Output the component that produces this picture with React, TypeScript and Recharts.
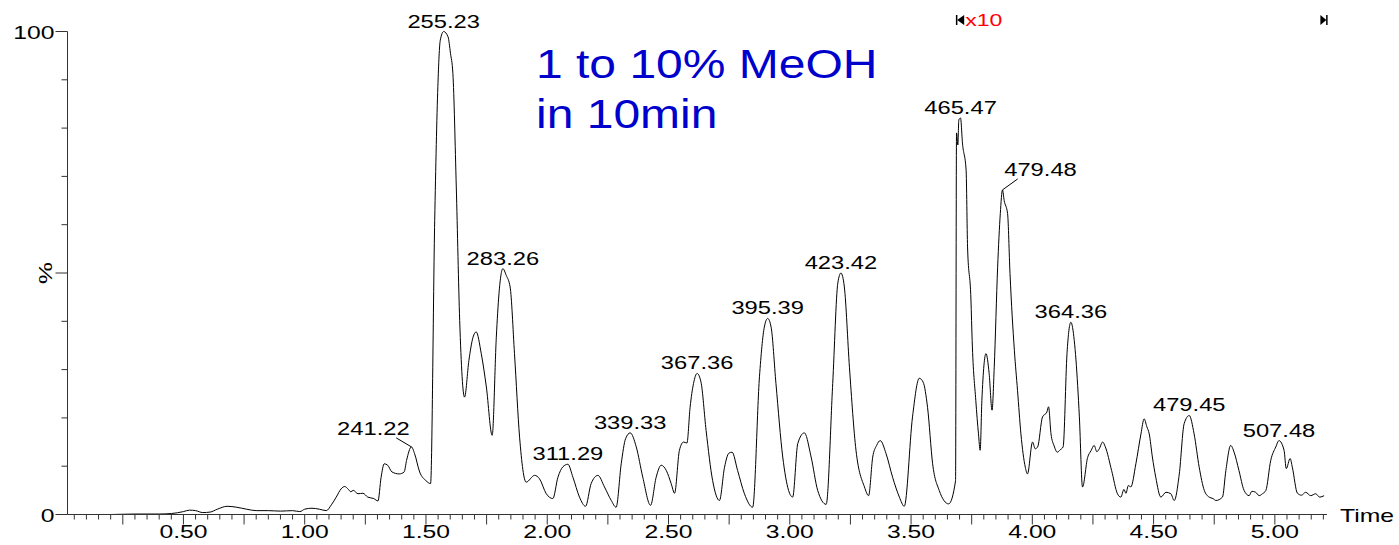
import React from 'react';
import { LineChart, Line, XAxis, YAxis, ReferenceDot } from 'recharts';

// retention time (min) and relative intensity (%)
const times = [
  0.022, 0.1, 0.2, 0.3, 0.4, 0.45, 0.5, 0.525, 0.55, 0.58, 0.61, 0.64, 0.68, 0.72, 0.76, 0.8,
  0.85, 0.9, 0.95, 0.98, 1.0, 1.03, 1.06, 1.089, 1.11, 1.13, 1.15, 1.165, 1.18, 1.19, 1.2,
  1.22, 1.24, 1.26, 1.285, 1.302, 1.315, 1.328, 1.342, 1.36, 1.39, 1.41, 1.42, 1.44, 1.453,
  1.474, 1.5, 1.519, 1.536, 1.549, 1.559, 1.573, 1.591, 1.601, 1.611, 1.625, 1.639, 1.659,
  1.677, 1.694, 1.707, 1.728, 1.749, 1.773, 1.79, 1.801, 1.817, 1.831, 1.847, 1.865, 1.886,
  1.913, 1.948, 1.968, 1.996, 2.023, 2.044, 2.065, 2.085, 2.106, 2.133, 2.158, 2.181, 2.209,
  2.236, 2.264, 2.284, 2.305, 2.323, 2.342, 2.367, 2.394, 2.426, 2.449, 2.47, 2.491, 2.511,
  2.525, 2.545, 2.562, 2.576, 2.589, 2.603, 2.618, 2.634, 2.655, 2.682, 2.71, 2.731, 2.749,
  2.762, 2.785, 2.813, 2.847, 2.875, 2.895, 2.909, 2.923, 2.943, 2.971, 2.995, 3.012, 3.033,
  3.06, 3.088, 3.115, 3.15, 3.177, 3.198, 3.211, 3.225, 3.246, 3.273, 3.308, 3.325, 3.342,
  3.358, 3.373, 3.397, 3.424, 3.452, 3.472, 3.506, 3.534, 3.55, 3.568, 3.589, 3.616, 3.655,
  3.6835, 3.6875, 3.693, 3.697, 3.704, 3.712, 3.727, 3.733, 3.747, 3.752, 3.767, 3.778, 3.785,
  3.792, 3.809, 3.822, 3.834, 3.843, 3.857, 3.868, 3.877, 3.884, 3.898, 3.908, 3.926, 3.939,
  3.953, 3.971, 3.98, 4.001, 4.012, 4.022, 4.042, 4.06, 4.067, 4.077, 4.09, 4.103, 4.115,
  4.127, 4.143, 4.159, 4.173, 4.18, 4.194, 4.207, 4.228, 4.242, 4.255, 4.266, 4.276, 4.29,
  4.301, 4.327, 4.351, 4.365, 4.378, 4.386, 4.396, 4.406, 4.427, 4.448, 4.461, 4.472, 4.482,
  4.495, 4.509, 4.53, 4.551, 4.571, 4.585, 4.606, 4.626, 4.647, 4.667, 4.688, 4.709, 4.729,
  4.745, 4.757, 4.784, 4.798, 4.818, 4.832, 4.852, 4.873, 4.894, 4.905, 4.921, 4.935, 4.949,
  4.963, 4.983, 5.004, 5.017, 5.038, 5.047, 5.063, 5.072, 5.093, 5.11, 5.127, 5.148, 5.168,
  5.185, 5.203,
];
const intensity = [
  0, 0, 0, 0.1, 0.1, 0.2, 0.6, 0.9, 0.8, 0.4, 0.5, 1.1, 1.7, 1.5, 1.1, 0.8,
  0.8, 0.7, 0.8, 0.6, 1.1, 1.3, 1.1, 0.8, 2.0, 3.6, 5.3, 5.8, 5.2, 4.7, 5.0,
  4.3, 4.4, 3.6, 3.3, 2.8, 7.7, 10.5, 10.2, 8.8, 8.4, 8.8, 11.2, 14.0, 12.6,
  8.8, 7.0, 6.4, 60.9, 88.6, 98.2, 100, 98.9, 95.5, 91.3, 67.8, 40.2, 24.3,
  31.9, 36.7, 37.8, 33.3, 26.4, 16.4, 36.7, 45.7, 50.9, 49.5, 47.1, 33.3, 16.0,
  6.7, 8.1, 7.4, 4.3, 3.3, 7.7, 9.9, 10.4, 7.7, 3.6, 1.7, 6.4, 8.1,
  5.7, 2.9, 1.5, 10.5, 15.7, 16.9, 14.0, 7.7, 1.9, 7.7, 10.2, 9.1, 6.4,
  4.4, 13.3, 15.0, 14.8, 22.2, 27.1, 29.2, 27.4, 17.4, 7.0, 2.9, 9.8, 12.7,
  12.9, 9.1, 4.3, 1.5, 28.5, 38.8, 40.6, 38.8, 27.1, 11.9, 5.0, 3.6, 14.7,
  16.9, 11.9, 5.0, 2.1, 27.1, 47.9, 50.0, 47.1, 30.5, 13.3, 5.7, 3.9, 11.9,
  14.3, 15.3, 12.6, 7.7, 3.6, 1.7, 20.2, 28.2, 27.4, 22.2, 10.5, 5.0, 2.2,
  7.0, 79.0, 76.5, 81.7, 82.1, 76.9, 71.3, 55.4, 44.4, 36.0, 23.6, 16.7, 13.3,
  23.6, 33.3, 29.2, 21.6, 30.5, 51.2, 62.3, 67.2, 65.0, 62.3, 49.9, 34.0, 25.7,
  16.7, 9.8, 8.4, 15.0, 13.6, 14.0, 20.2, 21.2, 22.3, 16.7, 14.2, 12.9, 13.4,
  14.0, 33.3, 39.8, 36.0, 32.0, 20.2, 5.7, 11.8, 13.2, 14.3, 13.0, 13.6, 15.0,
  14.0, 9.1, 4.3, 3.6, 5.2, 4.4, 6.0, 5.7, 10.5, 16.7, 19.8, 18.2, 16.7,
  11.9, 7.7, 3.6, 4.6, 4.3, 2.9, 8.4, 18.8, 20.5, 16.7, 9.8, 5.0, 3.6,
  3.3, 2.9, 3.6, 9.1, 14.3, 12.9, 9.1, 5.0, 3.9, 4.8, 4.6, 3.9, 4.3,
  5.0, 11.2, 14.0, 15.3, 13.3, 9.5, 11.6, 9.8, 4.4, 4.0, 4.6, 3.9, 4.3,
  3.6, 3.9,
];

// labelled peaks: time, height, m/z text
const peakTimes = [1.44, 1.573, 1.817, 2.085, 2.342, 2.618, 2.909, 3.211, 3.704, 3.877, 4.159, 4.647, 5.017];
const peakHeights = [14.0, 100, 50.9, 10.4, 16.9, 29.2, 40.6, 50.0, 82.1, 67.2, 39.8, 20.5, 15.3];
const peakMasses = ['241.22', '255.23', '283.26', '311.29', '339.33', '367.36', '395.39', '423.42', '465.47', '479.48', '364.36', '479.45', '507.48'];

// axis ticks
const xLabelTicks = [0.5, 1, 1.5, 2, 2.5, 3, 3.5, 4, 4.5, 5];
const xTicks = Array.from({ length: 104 }, (_, i) => +((i + 1) * 0.05).toFixed(2));
const yTicks = [0, 10, 20, 30, 40, 50, 60, 70, 80, 90, 100];

// magnified region marker
const gainRange = [3.686, 5.2];
const gainText = 'x10';

const data = times.map((t, i) => ({ t, v: intensity[i] }));

const FONT = '"Liberation Sans", Arial, sans-serif';
const AXIS = '#333';

// leader-line offsets for labels that sit beside their peak
const labelShift: Record<string, [number, number]> = {
  '241.22': [-38, -9],
  '479.48': [38, -11],
};

function Stretch({ x, y, size, sx = 1.3, anchor = 'middle', fill = '#000', children }: any) {
  return (
    <text
      transform={`translate(${x},${y}) scale(${sx},1)`}
      textAnchor={anchor}
      fontSize={size}
      fontFamily={FONT}
      fill={fill}
    >
      {children}
    </text>
  );
}

function XTick({ x, y, payload }: any) {
  const v = payload.value;
  const quarter = Math.abs(v * 4 - Math.round(v * 4)) < 1e-6;
  const half = xLabelTicks.some((t) => Math.abs(t - v) < 1e-6);
  return (
    <g>
      <line x1={x} x2={x} y1={y} y2={y + (quarter ? 10 : 5)} stroke={AXIS} />
      {half && (
        <Stretch x={x} y={y + 23} size={19}>
          {v.toFixed(2)}
        </Stretch>
      )}
    </g>
  );
}

function YTick({ x, y, payload }: any) {
  const v = payload.value;
  const major = v % 50 === 0;
  return (
    <g>
      <line x1={x} x2={x - (major ? 12 : 6)} y1={y} y2={y} stroke={AXIS} />
      {(v === 0 || v === 100) && (
        <Stretch x={x - 13} y={y + 7} size={19} anchor="end">
          {v}
        </Stretch>
      )}
      {v === 50 && (
        <text
          transform={`translate(${x - 16},${y}) rotate(-90) scale(1.3,1)`}
          textAnchor="middle"
          fontSize={19}
          fontFamily={FONT}
        >
          %
        </text>
      )}
    </g>
  );
}

function PeakLabel({ cx, cy, text }: any) {
  const shift = labelShift[text];
  if (shift) {
    const [dx, dy] = shift;
    return (
      <g>
        <line x1={cx} y1={cy} x2={cx + dx * 0.4} y2={cy + dy} stroke="#000" />
        <Stretch x={cx + dx} y={cy + dy - 3} size={18} sx={1.32}>
          {text}
        </Stretch>
      </g>
    );
  }
  return (
    <Stretch x={cx} y={cy - 4} size={18} sx={1.32}>
      {text}
    </Stretch>
  );
}

function GainMark({ cx, cy, side }: any) {
  const y = cy - 11.5;
  if (side === 'start') {
    return (
      <g>
        <line x1={cx + 0.5} x2={cx + 0.5} y1={y - 5} y2={y + 5} stroke="#000" strokeWidth={1.5} />
        <polygon points={`${cx + 1},${y} ${cx + 8},${y - 5} ${cx + 8},${y + 5}`} fill="#000" />
        <Stretch x={cx + 9} y={y + 6} size={16.5} sx={1.4} anchor="start" fill="#ff0000">
          {gainText}
        </Stretch>
      </g>
    );
  }
  return (
    <g>
      <polygon points={`${cx - 3},${y - 5} ${cx - 3},${y + 5} ${cx + 3},${y}`} fill="#000" />
      <line x1={cx + 3.5} x2={cx + 3.5} y1={y - 5} y2={y + 5} stroke="#000" strokeWidth={1.5} />
    </g>
  );
}

export default function App() {
  return (
    <div style={{ position: 'absolute', left: 0, top: 0, width: 1399, height: 545, background: '#fff' }}>
      <LineChart
        width={1399}
        height={545}
        data={data}
        margin={{ top: 31.5, right: 72, bottom: 10.5, left: 7.5 }}
      >
        <XAxis
          type="number"
          dataKey="t"
          domain={[0.022, 5.215]}
          allowDataOverflow
          ticks={xTicks}
          interval={0}
          tickSize={0}
          tickMargin={0}
          height={20}
          tickLine={false}
          axisLine={{ stroke: AXIS }}
          tick={(p: any) => <XTick {...p} />}
        />
        <YAxis
          type="number"
          domain={[0, 100]}
          ticks={yTicks}
          interval={0}
          tickSize={0}
          tickMargin={0}
          width={60}
          tickLine={false}
          axisLine={{ stroke: AXIS }}
          tick={(p: any) => <YTick {...p} />}
        />
        <Line
          type="monotone"
          dataKey="v"
          stroke="#000"
          strokeWidth={1}
          dot={false}
          isAnimationActive={false}
        />
        {peakTimes.map((t, i) => (
          <ReferenceDot
            key={peakMasses[i]}
            x={t}
            y={peakHeights[i]}
            r={0}
            ifOverflow="visible"
            shape={(p: any) => <PeakLabel cx={p.cx} cy={p.cy} text={peakMasses[i]} />}
          />
        ))}
        <ReferenceDot
          x={gainRange[0]}
          y={100}
          r={0}
          ifOverflow="visible"
          shape={(p: any) => <GainMark cx={p.cx} cy={p.cy} side="start" />}
        />
        <ReferenceDot
          x={gainRange[1]}
          y={100}
          r={0}
          ifOverflow="visible"
          shape={(p: any) => <GainMark cx={p.cx} cy={p.cy} side="end" />}
        />
      </LineChart>
      <div
        style={{
          position: 'absolute',
          left: 536,
          top: 39,
          fontFamily: FONT,
          fontSize: 40,
          lineHeight: '50px',
          color: '#0000cc',
          transform: 'scaleX(1.2)',
          transformOrigin: 'left top',
          whiteSpace: 'nowrap',
        }}
      >
        1 to 10% MeOH
        <br />
        in 10min
      </div>
      <div
        style={{
          position: 'absolute',
          left: 1340,
          top: 506,
          fontFamily: FONT,
          fontSize: 19,
          lineHeight: '19px',
          transform: 'scaleX(1.3)',
          transformOrigin: 'left top',
        }}
      >
        Time
      </div>
    </div>
  );
}
